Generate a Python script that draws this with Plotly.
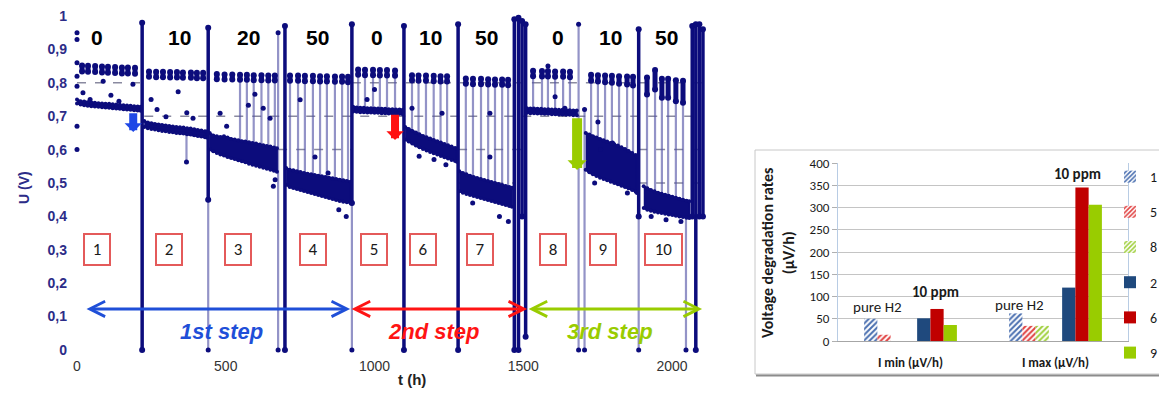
import plotly.graph_objects as go

# page has an 8px body margin: figure sized to the visible area
OFF = 8
W, H = 1167 - OFF, 401 - OFF

# ------------------------------------------------------------------ left chart data
seg_label_txt = ["0", "10", "20", "50", "0", "10", "50", "0", "10", "50"]
seg_label_t = [67, 346, 578, 810, 1008, 1187, 1378, 1617, 1792, 1983]
seg_label_u = 0.937

box_txt = ["1", "2", "3", "4", "5", "6", "7", "8", "9", "10"]
box_t = [67, 309, 541, 793, 998, 1163, 1355, 1600, 1768, 1970]
box_u = 0.30

step_txt = ["1st step", "2nd step", "3rd step"]
step_t0 = [27, 918, 1513]
step_t1 = [918, 1513, 2101]
step_text_t = [487, 1197, 1792]
step_u = 0.123
step_text_u = 0.055

drop_t = [189, 1069, 1681]
drop_from = [0.713, 0.709, 0.698]
drop_to = [0.653, 0.629, 0.539]

x_ticks = [0, 500, 1000, 1500, 2000]
y_ticks = [0, 0.1, 0.2, 0.3, 0.4, 0.5, 0.6, 0.7, 0.8, 0.9, 1.0]
y_ticktext = ["0", "0,1", "0,2", "0,3", "0,4", "0,5", "0,6", "0,7", "0,8", "0,9", "1"]

# dashed reference levels
ref_u = [0.8, 0.8, 0.7, 0.6, 0.6, 0.6, 0.5, 0.5]
ref_t0 = [0, 924, 226, 676, 1281, 1886, 1281, 1886]
ref_t1 = [215, 2100, 2100, 924, 1510, 2100, 1466, 2100]

# high-current voltage band (upper / lower edge), None between test periods
band_t = [0, 12, 24, 36, 48, 60, 72, 84, 96, 108, 120, 132, 144, 156, 168, 180, 192, 204, 214, None,
          226, 238, 250, 262, 274, 286, 298, 310, 322, 334, 346, 358, 370, 382, 394, 406, 418, 430, 436, None,
          446, 458, 470, 482, 494, 506, 518, 530, 542, 554, 566, 578, 590, 602, 614, 626, 638, 650, 662, 672, None,
          703, 715, 727, 739, 751, 763, 775, 787, 799, 811, 823, 835, 847, 859, 871, 883, 895, 907, 920, None,
          928, 940, 952, 964, 976, 988, 1000, 1012, 1024, 1036, 1048, 1060, 1072, 1084, 1095, None,
          1103, 1115, 1127, 1139, 1151, 1163, 1175, 1187, 1199, 1211, 1223, 1235, 1247, 1259, 1271, 1277, None,
          1285, 1297, 1309, 1321, 1333, 1345, 1357, 1369, 1381, 1393, 1405, 1417, 1429, 1441, 1453, 1462, None,
          1512, 1524, 1536, 1548, 1560, 1572, 1584, 1596, 1608, 1620, 1632, 1644, 1656, 1668, 1680, None,
          1710, 1722, 1734, 1746, 1758, 1770, 1782, 1794, 1806, 1818, 1830, 1842, 1854, 1866, 1878, 1882, None,
          1905, 1917, 1929, 1941, 1953, 1965, 1977, 1989, 2001, 2013, 2025, 2037, 2049, 2058]
band_top = [0.750, 0.745, 0.744, 0.742, 0.741, 0.740, 0.739, 0.738, 0.737, 0.737, 0.736, 0.735, 0.734, 0.733, 0.732, 0.731, 0.730, 0.729, 0.728, None,
            0.686, 0.681, 0.679, 0.677, 0.675, 0.674, 0.672, 0.671, 0.669, 0.668, 0.667, 0.666, 0.664, 0.663, 0.661, 0.659, 0.657, 0.655, 0.654, None,
            0.650, 0.642, 0.640, 0.638, 0.640, 0.636, 0.632, 0.630, 0.628, 0.625, 0.624, 0.622, 0.620, 0.618, 0.615, 0.613, 0.611, 0.609, 0.606, 0.604, None,
            0.545, 0.540, 0.538, 0.535, 0.533, 0.530, 0.528, 0.526, 0.524, 0.522, 0.520, 0.518, 0.516, 0.514, 0.512, 0.510, 0.508, 0.506, 0.504, None,
            0.728, 0.726, 0.725, 0.725, 0.724, 0.724, 0.723, 0.723, 0.722, 0.722, 0.721, 0.721, 0.720, 0.720, 0.719, None,
            0.668, 0.662, 0.656, 0.651, 0.646, 0.641, 0.637, 0.633, 0.629, 0.625, 0.621, 0.617, 0.613, 0.609, 0.605, 0.603, None,
            0.535, 0.530, 0.526, 0.522, 0.518, 0.515, 0.512, 0.509, 0.506, 0.503, 0.500, 0.497, 0.494, 0.491, 0.488, 0.486, None,
            0.724, 0.723, 0.723, 0.722, 0.722, 0.721, 0.721, 0.720, 0.720, 0.719, 0.719, 0.718, 0.718, 0.717, 0.717, None,
            0.650, 0.645, 0.640, 0.636, 0.632, 0.628, 0.624, 0.620, 0.616, 0.612, 0.607, 0.602, 0.596, 0.590, 0.584, 0.580, None,
            0.490, 0.484, 0.479, 0.475, 0.471, 0.468, 0.465, 0.462, 0.459, 0.456, 0.453, 0.450, 0.447, 0.445]
band_bot = [0.738, 0.735, 0.733, 0.731, 0.730, 0.729, 0.728, 0.727, 0.726, 0.725, 0.724, 0.723, 0.722, 0.721, 0.720, 0.719, 0.718, 0.717, 0.716, None,
            0.668, 0.664, 0.662, 0.660, 0.658, 0.656, 0.655, 0.653, 0.652, 0.650, 0.649, 0.648, 0.646, 0.645, 0.643, 0.641, 0.639, 0.637, 0.636, None,
            0.600, 0.595, 0.590, 0.585, 0.582, 0.578, 0.575, 0.572, 0.568, 0.565, 0.562, 0.558, 0.555, 0.552, 0.549, 0.546, 0.543, 0.540, 0.537, 0.534, None,
            0.495, 0.488, 0.485, 0.482, 0.479, 0.476, 0.473, 0.470, 0.467, 0.464, 0.461, 0.458, 0.455, 0.452, 0.449, 0.446, 0.444, 0.442, 0.440, None,
            0.714, 0.713, 0.712, 0.712, 0.711, 0.711, 0.710, 0.710, 0.709, 0.709, 0.708, 0.708, 0.707, 0.707, 0.706, None,
            0.630, 0.624, 0.618, 0.612, 0.607, 0.602, 0.597, 0.593, 0.589, 0.585, 0.581, 0.577, 0.573, 0.569, 0.566, 0.564, None,
            0.475, 0.471, 0.467, 0.464, 0.461, 0.458, 0.455, 0.452, 0.449, 0.446, 0.443, 0.440, 0.437, 0.434, 0.431, 0.429, None,
            0.710, 0.709, 0.709, 0.708, 0.708, 0.707, 0.707, 0.706, 0.706, 0.705, 0.705, 0.704, 0.704, 0.703, 0.703, None,
            0.540, 0.532, 0.526, 0.521, 0.516, 0.512, 0.508, 0.504, 0.500, 0.496, 0.492, 0.488, 0.484, 0.479, 0.474, 0.470, None,
            0.425, 0.420, 0.417, 0.414, 0.412, 0.410, 0.408, 0.406, 0.404, 0.402, 0.400, 0.398, 0.396, 0.395]

# low-current cycles: time, top/bottom of the dot, lower end of the switching line
cyc_t = [17, 37, 61, 84, 104, 128, 151, 171, 195,
         242, 266, 289, 313, 336, 356, 383, 403, 424,
         470, 496, 522, 548, 571, 594, 620, 643, 665,
         716, 743, 766, 793, 817, 840, 867, 891, 911,
         945, 968, 995, 1018, 1042, 1069,
         1126, 1148, 1173, 1199, 1222, 1244,
         1307, 1331, 1358, 1382, 1405, 1429, 1449,
         1533, 1563, 1583, 1607, 1634, 1657,
         1728, 1751, 1775, 1798, 1822, 1849, 1869,
         1916, 1943, 1966, 1987, 2013, 2037]
cyc_hi_top = [0.852, 0.851, 0.850, 0.849, 0.848, 0.847, 0.846, 0.846, 0.845,
              0.834, 0.833, 0.833, 0.832, 0.832, 0.831, 0.831, 0.830, 0.830,
              0.826, 0.825, 0.825, 0.824, 0.824, 0.823, 0.823, 0.822, 0.822,
              0.822, 0.822, 0.821, 0.821, 0.820, 0.820, 0.819, 0.819, 0.818,
              0.840, 0.839, 0.839, 0.838, 0.838, 0.837,
              0.823, 0.822, 0.822, 0.821, 0.820, 0.820,
              0.813, 0.812, 0.812, 0.811, 0.810, 0.810, 0.809,
              0.836, 0.835, 0.835, 0.834, 0.834, 0.833,
              0.824, 0.823, 0.822, 0.821, 0.820, 0.819, 0.818,
              0.816, 0.838, 0.812, 0.812, 0.808, 0.806]
cyc_hi_bot = [0.834, 0.833, 0.832, 0.831, 0.830, 0.829, 0.828, 0.828, 0.827,
              0.818, 0.817, 0.817, 0.816, 0.816, 0.815, 0.815, 0.814, 0.814,
              0.811, 0.810, 0.810, 0.809, 0.809, 0.808, 0.808, 0.807, 0.807,
              0.806, 0.806, 0.805, 0.805, 0.804, 0.804, 0.803, 0.803, 0.802,
              0.824, 0.823, 0.823, 0.822, 0.822, 0.821,
              0.807, 0.806, 0.806, 0.805, 0.804, 0.804,
              0.797, 0.796, 0.796, 0.795, 0.794, 0.794, 0.793,
              0.820, 0.819, 0.819, 0.818, 0.818, 0.817,
              0.806, 0.804, 0.802, 0.800, 0.797, 0.795, 0.792,
              0.765, 0.780, 0.755, 0.755, 0.745, 0.740]
cyc_lo = [None] * 9 + [None] * 9 + \
         [None, None, None, 0.570, 0.562, 0.555, 0.547, 0.541, 0.535,
          0.490, 0.483, 0.478, 0.470, 0.465, 0.458, 0.452, 0.445, 0.442,
          0.713, 0.712, 0.711, 0.710, 0.709, 0.708,
          0.619, 0.606, 0.596, 0.589, 0.581, 0.575,
          0.468, 0.461, 0.455, 0.449, 0.443, 0.437, 0.432,
          0.709, 0.708, 0.707, 0.706, 0.705, 0.704,
          0.530, 0.520, 0.510, 0.503, 0.495, 0.486, 0.478,
          0.420, 0.414, 0.410, 0.406, 0.402, 0.398]

# start-ups / shut-downs between periods
thick_t = [219, 441, 699, 924, 1099, 1281, 1470, 1484, 1496, 1508, 1888, 2068, 2080, 2092, 2104]
thick_bot = [0, 0.45, 0, 0.44, 0, 0, 0, 0, 0.40, 0.04, 0.40, 0.40, 0, 0.40, 0.40]
thick_top = [0.98, 0.965, 0.97, 0.975, 0.97, 0.975, 0.99, 0.995, 0.985, 0.975, 0.96, 0.97, 0.975, 0.975, 0.96]
thin_t = [441, 676, 924, 1686, 1706, 1888, 2047, 368]
thin_bot = [0, 0, 0, 0, 0, 0, 0, 0.563]
thin_top = [0.45, 0.95, 0.44, 0.975, 0.72, 0.40, 0.44, 0.655]

# isolated points
stray_t = [0, 0, 0, 0, 0, 0, 0, 20, 44, 88, 114, 141, 188, 249, 269, 299, 340, 369, 390,
           481, 503, 576, 598, 626, 649, 660, 666, 750, 800, 844, 880, 905, 975, 1000,
           1126, 1227, 1150, 1200, 1240, 1388, 1388, 1330, 1420, 1450, 1583, 1607, 1640,
           1751, 1760, 1800, 1850, 1740, 1930, 1980, 2030]
stray_u = [0.95, 0.93, 0.86, 0.82, 0.79, 0.67, 0.60, 0.77, 0.75, 0.805, 0.763, 0.745, 0.796,
           0.75, 0.72, 0.698, 0.773, 0.71, 0.694, 0.709, 0.67, 0.733, 0.766, 0.724, 0.694, 0.49, 0.51,
           0.749, 0.578, 0.53, 0.42, 0.40, 0.75, 0.78, 0.724, 0.709, 0.58, 0.57, 0.555,
           0.709, 0.578, 0.44, 0.40, 0.385, 0.85, 0.758, 0.724, 0.683, 0.60, 0.62, 0.47, 0.50,
           0.40, 0.39, 0.385]

# ------------------------------------------------------------------ right chart data
bar_cats = ["I min (µV/h)", "I max (µV/h)"]
bar_names = ["1", "5", "8", "2", "6", "9"]
rate_1 = [50, 62]
rate_5 = [14, 34]
rate_8 = [None, 34]
rate_2 = [51, 120]
rate_6 = [72, 345]
rate_9 = [36, 306]
bar_y_ticks = [0, 50, 100, 150, 200, 250, 300, 350, 400]

# ------------------------------------------------------------------ styles
NAVY = "#0c0c7c"
LAV = "rgba(80,80,165,0.62)"
LF = "Liberation Sans, Arial, sans-serif"
RF = "Carlito, Lato, sans-serif"
step_colors = ["#1f4fd8", "#ff1414", "#99cc00"]
drop_colors = ["#1f48e6", "#ff1010", "#99cc00"]
drop_widths = [8, 8, 10]
drop_sizes = [0.36, 0.36, 0.32]
bar_colors = ["#4a6fb0", "#e04040", "#9fcf3c", "#1f497d", "#c00000", "#99cc00"]
bar_hatched = [True, True, True, False, False, False]


def fx(px):
    return (px - OFF) / W


def fy(py):
    return 1 - (py - OFF) / H


fig = go.Figure()
L = dict(xaxis="x", yaxis="y", hoverinfo="skip", showlegend=False)

rx, ry = [], []
for u, a, b in zip(ref_u, ref_t0, ref_t1):
    rx += [a, b, None]
    ry += [u, u, None]
fig.add_trace(go.Scatter(x=rx, y=ry, mode="lines",
                         line=dict(color="#8a8aa0", width=1.5, dash="dash"), **L))

sx, sy = [], []
for t, lo, hb in zip(cyc_t, cyc_lo, cyc_hi_bot):
    if lo is not None:
        sx += [t, t, None]
        sy += [lo, hb, None]
fig.add_trace(go.Scatter(x=sx, y=sy, mode="lines", line=dict(color=LAV, width=2.2), **L))

tx, ty = [], []
for t, a, b in zip(thin_t, thin_bot, thin_top):
    tx += [t, t, None]
    ty += [a, b, None]
fig.add_trace(go.Scatter(x=tx, y=ty, mode="lines+markers", line=dict(color=LAV, width=2.2),
                         marker=dict(color=NAVY, size=5), **L))

bx, by = [], []
ct, ca, cb = [], [], []
for t, a, b in zip(band_t + [None], band_top + [None], band_bot + [None]):
    if t is None:
        if ct:
            bx += ct + ct[::-1] + [None]
            by += ca + cb[::-1] + [None]
        ct, ca, cb = [], [], []
    else:
        ct.append(t)
        ca.append(a)
        cb.append(b)
fig.add_trace(go.Scatter(x=bx, y=by, mode="lines+markers", fill="toself", fillcolor=NAVY,
                         line=dict(color=NAVY, width=2), marker=dict(color=NAVY, size=4), **L))

hx, hy = [], []
for t, a, b in zip(cyc_t, cyc_hi_bot, cyc_hi_top):
    hx += [t, t, None]
    hy += [a, b, None]
fig.add_trace(go.Scatter(x=hx, y=hy, mode="lines+markers", line=dict(color=NAVY, width=5),
                         marker=dict(color=NAVY, size=6), **L))

kx, ky = [], []
for t, a, b in zip(thick_t, thick_bot, thick_top):
    kx += [t, t, None]
    ky += [a, b, None]
fig.add_trace(go.Scatter(x=kx, y=ky, mode="lines+markers", line=dict(color=NAVY, width=3.5),
                         marker=dict(color=NAVY, size=6), **L))

fig.add_trace(go.Scatter(x=stray_t, y=stray_u, mode="markers", marker=dict(color=NAVY, size=5), **L))

# ------------------------------------------------------------------ bars
series = [rate_1, rate_5, rate_8, rate_2, rate_6, rate_9]
for i, (n, v, c, h) in enumerate(zip(bar_names, series, bar_colors, bar_hatched)):
    if i == 3:
        fig.add_trace(go.Bar(x=bar_cats, y=[None, None], xaxis="x2", yaxis="y2",
                             showlegend=False, hoverinfo="skip", marker=dict(color="white")))
    if h:
        mk = dict(color=c, line=dict(width=0),
                  pattern=dict(shape="/", fgcolor=c, bgcolor="white", size=4, solidity=0.5,
                               fillmode="replace"))
    else:
        mk = dict(color=c, line=dict(width=0))
    fig.add_trace(go.Bar(x=bar_cats, y=v, name=n, xaxis="x2", yaxis="y2", marker=mk, legendgroup=n))

# ------------------------------------------------------------------ annotations
ann = []
for t, s in zip(seg_label_t, seg_label_txt):
    ann.append(dict(x=t, y=seg_label_u, xref="x", yref="y", text="<b>%s</b>" % s, showarrow=False,
                    font=dict(family=LF, size=21, color="black")))
for t, s in zip(box_t, box_txt):
    ann.append(dict(x=t, y=box_u, xref="x", yref="y", text=s, showarrow=False,
                    font=dict(family=RF, size=17, color="#1a1a1a"),
                    bgcolor="white", bordercolor="#e45a5a", borderwidth=2, borderpad=2,
                    width=20 if len(s) == 1 else 31, height=25))
for a, b, tt, s, c in zip(step_t0, step_t1, step_text_t, step_txt, step_colors):
    ann.append(dict(x=b, y=step_u, ax=a, ay=step_u, xref="x", yref="y", axref="x", ayref="y",
                    text="", showarrow=True, arrowside="end+start", arrowhead=5, startarrowhead=5,
                    arrowsize=1, startarrowsize=1, arrowwidth=3, arrowcolor=c))
    ann.append(dict(x=tt, y=step_text_u, xref="x", yref="y", text="<b><i>%s</i></b>" % s,
                    showarrow=False, font=dict(family=LF, size=22, color=c)))
for t, a, b, c, w, z in zip(drop_t, drop_from, drop_to, drop_colors, drop_widths, drop_sizes):
    ann.append(dict(x=t, y=b, ax=t, ay=a, xref="x", yref="y", axref="x", ayref="y", text="",
                    showarrow=True, arrowhead=1, arrowwidth=w, arrowsize=z, arrowcolor=c))
ann.append(dict(x=fx(412), y=fy(390), xref="paper", yref="paper", text="<b>t (h)</b>", showarrow=False,
                font=dict(family=LF, size=15, color="#222")))
ann.append(dict(x=fx(14), y=fy(188), xref="paper", yref="paper", text="<b>U (V)</b>", showarrow=False,
                textangle=-90, font=dict(family=LF, size=14, color="#2c2c88")))

ann.append(dict(x=fx(778), y=fy(253), xref="paper", yref="paper",
                text="<b>Voltage degradation rates<br>(µV/h)</b>", showarrow=False, textangle=-90,
                font=dict(family=RF, size=16, color="#1a1a1a")))
ann.append(dict(x=-0.225, y=76, xref="x2", yref="y2", text="pure H2", showarrow=False,
                font=dict(family=RF, size=15, color="#1a1a1a")))
ann.append(dict(x=0.17, y=110, xref="x2", yref="y2", text="<b>10 ppm</b>", showarrow=False,
                font=dict(family=RF, size=15, color="#1a1a1a")))
ann.append(dict(x=0.75, y=82, xref="x2", yref="y2", text="pure H2", showarrow=False,
                font=dict(family=RF, size=15, color="#1a1a1a")))
ann.append(dict(x=1.15, y=375, xref="x2", yref="y2", text="<b>10 ppm</b>", showarrow=False,
                font=dict(family=RF, size=15, color="#1a1a1a")))

shapes = [
    dict(type="rect", xref="paper", yref="paper", x0=fx(755), x1=fx(1180), y0=fy(374), y1=fy(150),
         line=dict(color="#c8c8c8", width=1), fillcolor="rgba(0,0,0,0)", layer="below"),
    dict(type="line", xref="paper", yref="paper", x0=fx(756), x1=fx(1180), y0=fy(375.5), y1=fy(375.5),
         line=dict(color="#8c8c8c", width=2)),
]

fig.update_layout(
    width=W, height=H, margin=dict(l=0, r=0, t=0, b=0),
    paper_bgcolor="white", plot_bgcolor="white",
    barmode="group", bargap=0.36, bargroupgap=0,
    annotations=ann, shapes=shapes,
    xaxis=dict(domain=[fx(68), fx(712)], range=[-30.25, 2134.45], tickvals=x_ticks,
               tickfont=dict(family=LF, size=14, color="#333"), showgrid=False, zeroline=False,
               showline=False, anchor="y", automargin=False, ticklabeloverflow="allow"),
    yaxis=dict(domain=[fy(356), fy(10)], range=[-0.018, 1.018], tickvals=y_ticks, ticktext=y_ticktext,
               tickfont=dict(family=LF, size=14, color="#2c2c88", weight="bold"), showgrid=False,
               zeroline=False, showline=False, anchor="x", automargin=False, ticklabeloverflow="allow"),
    xaxis2=dict(domain=[fx(838), fx(1128)], anchor="y2", showgrid=False, zeroline=False,
                showline=True, linecolor="#a6a6a6", linewidth=1, ticks="outside", ticklen=9,
                tickcolor="rgba(0,0,0,0)", tickfont=dict(family=RF, size=13, color="#1a1a1a", weight="bold"),
                automargin=False),
    yaxis2=dict(domain=[fy(341), fy(163)], anchor="x2", range=[0, 400], tickvals=bar_y_ticks,
                showgrid=True, gridcolor="#c4c4c4", gridwidth=1, zeroline=False,
                showline=True, mirror=True, linecolor="#b8cce4", ticks="outside", ticklen=5,
                tickcolor="#b0b0b0", tickfont=dict(family=RF, size=13, color="#1a1a1a"),
                automargin=False),
    legend=dict(x=fx(1110), xanchor="left", y=fy(161), yanchor="top", tracegroupgap=14,
                font=dict(family=RF, size=14, color="#1a1a1a"), bgcolor="rgba(0,0,0,0)",
                itemclick=False),
    showlegend=True,
)

fig.write_html("out.html")
